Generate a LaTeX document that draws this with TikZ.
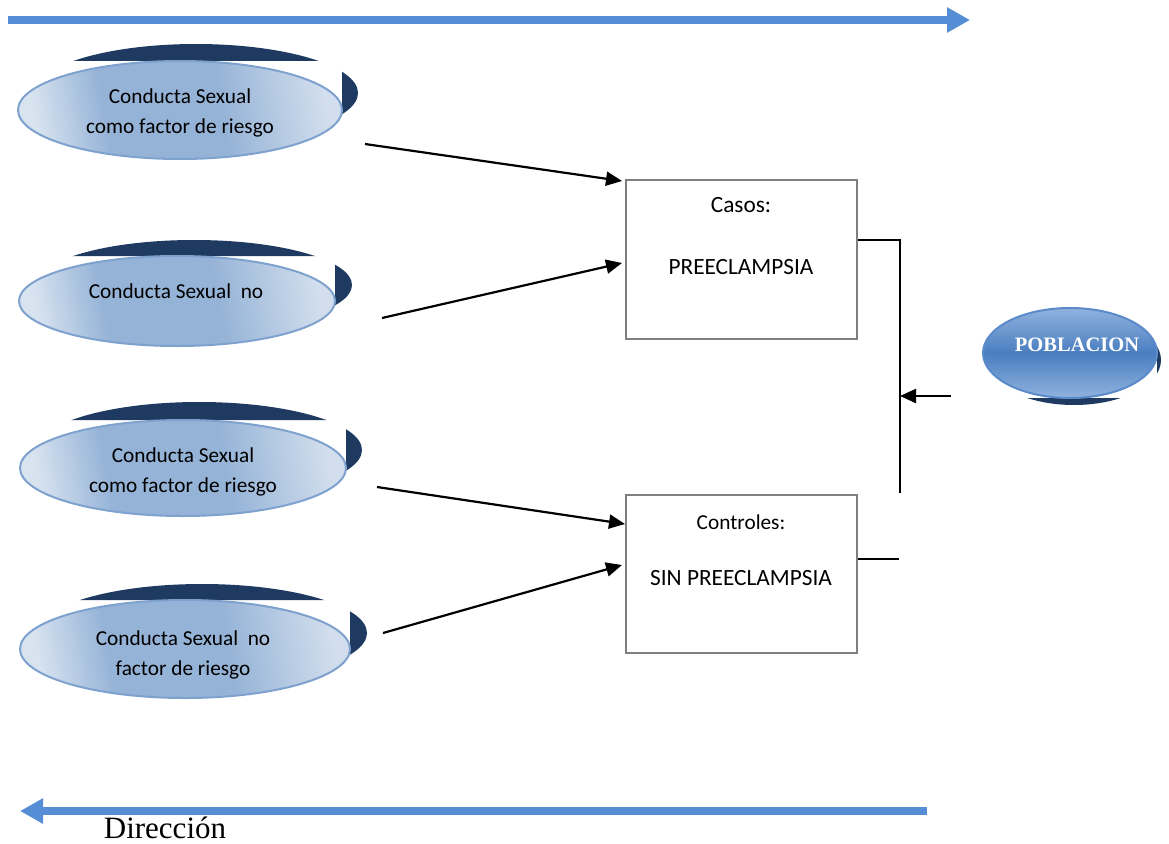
\documentclass[tikz,border=0pt]{standalone}
\usepackage{fontspec}
\setmainfont{Carlito}
\newfontfamily\tnr{Liberation Serif}
\usetikzlibrary{shapes.geometric,arrows.meta}
\definecolor{shadowc}{HTML}{1F3A60}
\definecolor{ellA}{HTML}{D8E3F0}
\definecolor{ellB}{HTML}{95B3D7}
\definecolor{ellC}{HTML}{D2DEED}
\definecolor{ellD}{HTML}{7EA1CE}
\definecolor{blueA}{HTML}{558ED5}
\definecolor{pobA}{HTML}{90B2DE}
\definecolor{pobB}{HTML}{4A7EC0}
\definecolor{pobD}{HTML}{5A8AC9}
\definecolor{boxgray}{HTML}{7F7F7F}
\pgfdeclarehorizontalshading{ellshade}{100bp}{color(0bp)=(ellA); color(25bp)=(ellA);
  color(37bp)=(ellB); color(57bp)=(ellB); color(75bp)=(ellC); color(100bp)=(ellC)}
% shadow above and to the right of a light ellipse: cx cy rx ry dx dy
\newcommand\upshadow[6]{%
  \begin{scope}
    \clip (#1-#3-40,#2-#4-60) rectangle (#1+#3+60,#2-#4)
          (#1+#3,#2-#4-60) rectangle (#1+#3+60,#2+#4+60);
    \fill[shadowc] (#1+#5,#2+#6) ellipse [x radius=#3, y radius=#4];
  \end{scope}}
% shadow below and to the right: cx cy rx ry dx dy
\newcommand\downshadow[6]{%
  \begin{scope}
    \clip (#1-#3-40,#2+#4) rectangle (#1+#3+60,#2+#4+60)
          (#1+#3,#2-#4-60) rectangle (#1+#3+60,#2+#4+60);
    \fill[shadowc] (#1+#5,#2+#6) ellipse [x radius=#3, y radius=#4];
  \end{scope}}
\begin{document}
\begin{tikzpicture}[x=1pt,y=-1pt,
  cell/.style={ellipse, inner sep=0pt, draw=ellD, line width=2pt,
    shading=ellshade, shading angle=10},
  etext/.style={align=center, font=\fontsize{21.3}{30}\selectfont, text=black},
  btext/.style={font=\fontsize{23.3}{28}\selectfont, text=black},
  boxn/.style={draw=boxgray, line width=2pt, fill=white, inner sep=0pt},
  arr/.style={line width=2.2pt, -{Triangle[length=16pt,width=14pt]}},
  plain/.style={line width=1.8pt},
  bluearrow/.style={draw=blueA, line width=8pt, -{Triangle[length=23pt,width=24pt]}}
]
\useasboundingbox (0,0) rectangle (1169,843);

% direction arrows
\coordinate (ta) at (8,20);
\coordinate (tb) at (970,20);
\draw[bluearrow] (ta) -- (tb);
\coordinate (ba) at (927,811);
\coordinate (bb) at (20,811);
\draw[bluearrow] (ba) -- (bb);
\node[font=\tnr\fontsize{31}{36}\selectfont, anchor=base] (dir) at (165,838) {Dirección};

% ellipses
\upshadow{180}{110}{162}{49}{16}{-17}
\node[cell, minimum width=324pt, minimum height=98pt] (e1) at (180,110) {};
\node[etext] (t1) at (180,113) {Conducta Sexual\\como factor de riesgo};

\upshadow{177}{301}{158}{45}{17}{-16}
\node[cell, minimum width=316pt, minimum height=90pt] (e2) at (177,301) {};
\node[etext] (t2) at (176,291) {Conducta Sexual\ \ no};

\upshadow{183}{468}{163}{48}{16}{-18}
\node[cell, minimum width=326pt, minimum height=96pt] (e3) at (183,468) {};
\node[etext] (t3) at (183,472) {Conducta Sexual\\como factor de riesgo};

\upshadow{185}{649}{165}{49}{17}{-16}
\node[cell, minimum width=330pt, minimum height=98pt] (e4) at (185,649) {};
\node[etext] (t4) at (183,655) {Conducta Sexual\ \ no\\factor de riesgo};

% boxes
\node[boxn, minimum width=231pt, minimum height=159pt] (casos) at (741.5,259.5) {};
\node[btext] (c1) at (741,205) {Casos:};
\node[btext] (c2) at (741,267) {PREECLAMPSIA};
\node[boxn, minimum width=231pt, minimum height=158pt] (controles) at (741.5,574) {};
\node[etext] (k1) at (741,522) {Controles:};
\node[btext] (k2) at (741,578) {SIN PREECLAMPSIA};

% arrows into boxes
\coordinate (s1) at (365,144);
\coordinate (s2) at (382,318);
\coordinate (s3) at (377,487);
\coordinate (s4) at (383,633);
\draw[arr] (s1) -- ([xshift=-3pt,yshift=-2pt]casos.north west);
\draw[arr] (s2) -- ([xshift=-3pt,yshift=-3.5pt]casos.west);
\draw[arr] (s3) -- ([yshift=-30pt]controles.north west);
\draw[arr] (s4) -- ([xshift=-3pt,yshift=9pt]controles.west);

% bracket
\coordinate (j1) at (900,240);
\coordinate (j2) at (900,493);
\coordinate (j3) at (899,559);
\draw[plain] (casos.east |- j1) -- (j1) -- (j2);
\draw[plain] (controles.east |- j3) -- (j3);

% poblacion
\downshadow{1070}{353}{87}{45}{4}{7}
\node[ellipse, inner sep=0pt, draw=pobD, line width=2pt,
  top color=pobA, bottom color=pobA, middle color=pobB,
  minimum width=174pt, minimum height=90pt] (pob) at (1070,353) {};
\node[font=\tnr\bfseries\fontsize{20.5}{24}\selectfont, text=white] (pt) at (1077,345) {POBLACION};
\coordinate (pa) at (951,396);
\draw[arr] (pa) -- (j1 |- pa);
\end{tikzpicture}
\end{document}
